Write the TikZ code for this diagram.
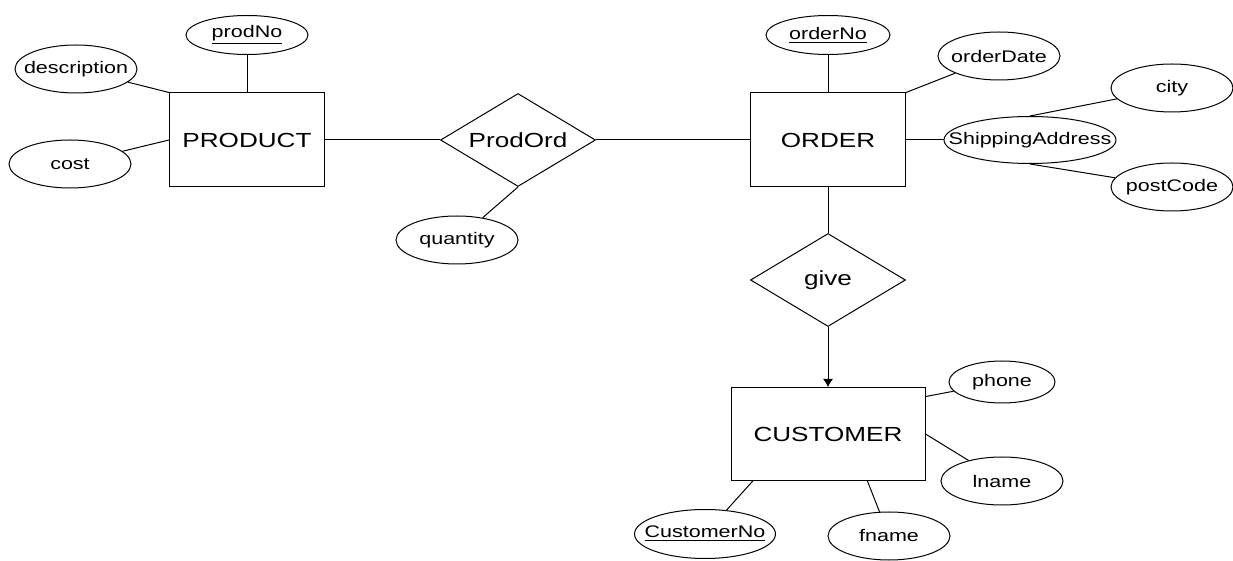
\documentclass[tikz,border=0pt]{standalone}
\usepackage{fontspec}
\setmainfont{Liberation Sans}[FakeStretch=1.28]
\usetikzlibrary{shapes.geometric,arrows.meta}

\newcommand{\nowidth}[1]{\makebox[0pt]{#1}}

\tikzset{
  entity/.style={draw, rectangle, minimum width=77.5pt, minimum height=47pt,
    font=\fontsize{10.2}{12}\selectfont},
  relation/.style={draw, diamond, aspect=1.67, inner sep=0pt,
    minimum width=77.5pt, minimum height=46.5pt, font=\fontsize{10.2}{12}\selectfont},
  attr/.style={draw, ellipse, inner sep=0pt, minimum width=61pt, minimum height=24pt,
    font=\fontsize{8.4}{10}\selectfont},
}

\begin{document}
\begin{tikzpicture}[x=0.5pt, y=-0.5pt, line width=0.5pt]
   \useasboundingbox (0,0) rectangle (1233,561);

   % entities and relationships
   \node[entity] (product) at (247,140) {PRODUCT};
   \node[entity] (order) at (828,140) {ORDER};
   \node[entity, minimum width=97pt, minimum height=46.5pt] (customer) at (828,434) {CUSTOMER};
   \node[relation] (prodord) at (518,140) {ProdOrd};
   \node[relation] (give) at (828,280) {give};

   % attributes
   \node[attr, minimum height=19.5pt] (prodNo) at (247,35) {\nowidth{\underline{prodNo}}};
   \node[attr] (description) at (76,69) {\nowidth{description}};
   \node[attr] (cost) at (70,164) {\nowidth{cost}};
   \node[attr] (quantity) at (457,240) {\nowidth{quantity}};
   \node[attr, minimum width=62pt, minimum height=19.5pt] (orderNo) at (828,35) {\nowidth{\underline{orderNo}}};
   \node[attr] (orderDate) at (999,56) {\nowidth{orderDate}};
   \node[attr, minimum width=86pt, minimum height=23.5pt] (shipping) at (1030,140) {\nowidth{ShippingAddress}};
   \node[attr] (city) at (1172,88) {\nowidth{city}};
   \node[attr] (postCode) at (1172,187) {\nowidth{postCode}};
   \node[attr, minimum width=53pt, minimum height=21pt] (phone) at (1002,382) {\nowidth{phone}};
   \node[attr] (lname) at (1002,481) {\nowidth{lname}};
   \node[attr] (fname) at (889,536) {\nowidth{fname}};
   \node[attr, minimum width=70.5pt, minimum height=24.5pt] (customerNo) at (705,534) {\nowidth{\underline{CustomerNo}}};

   % connectors
   \draw (prodNo) -- (product);
   \draw (description) -- (product.north west);
   \draw (cost) -- (product.west);
   \draw (product) -- (prodord);
   \draw (prodord) -- (order);
   \draw (quantity) -- (prodord.south);

   \draw (orderNo) -- (order);
   \draw (orderDate) -- (order.north east);
   \draw (order) -- (shipping);
   \draw (shipping.north) -- (city);
   \draw (shipping.south) -- (postCode);

   \draw (order) -- (give);
   \draw[-{Latex[length=4pt,width=5pt]}] (give) -- (customer);

   \draw (phone) -- (customer.21);
   \draw (lname) -- (customer.east);
   \draw (fname) -- (customer.-50);
   \draw (customerNo) -- (customer.212);
\end{tikzpicture}
\end{document}
